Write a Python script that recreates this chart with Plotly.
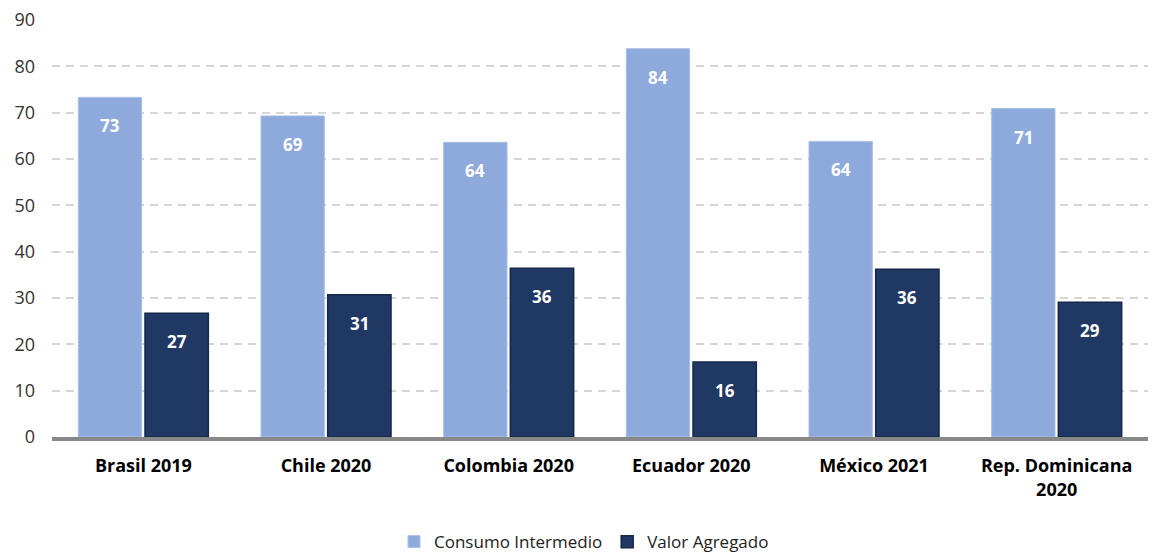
import plotly.graph_objects as go

categories = ["Brasil 2019", "Chile 2020", "Colombia 2020", "Ecuador 2020", "México 2021", "Rep. Dominicana<br>2020"]
consumo_intermedio = [73.3, 69.3, 63.6, 83.8, 63.8, 70.9]
valor_agregado = [26.7, 30.7, 36.4, 16.2, 36.2, 29.1]
y_ticks = [0, 10, 20, 30, 40, 50, 60, 70, 80, 90]

FONT = "Open Sans"
W, H = 1153, 556
ML, MR, MT, MB = 52, 5, 20, 119
BARGAP, GROUPGAP = 0.27, 0.05

fig = go.Figure()
series = [("Consumo Intermedio", consumo_intermedio, "#8EA9DB", "#A9BFE6", 1),
          ("Valor Agregado", valor_agregado, "#203864", "#15284A", 1.5)]
for name, vals, col, lc, lw in series:
    fig.add_trace(go.Bar(
        name=name, x=categories, y=vals,
        marker=dict(color=col, line=dict(color=lc, width=lw)),
        hoverinfo="x+y",
    ))

# value labels, placed under the top of each bar
cat_px = (W - ML - MR) / len(categories)
slot_px = cat_px * (1 - BARGAP) / len(series)
for si, (name, vals, col, lc, lw) in enumerate(series):
    shift = (si - (len(series) - 1) / 2) * slot_px
    for c, v in zip(categories, vals):
        fig.add_annotation(
            x=c, y=v, xref="x", yref="y", xshift=shift, yshift=-15,
            yanchor="top", showarrow=False, text=f"<b>{v:.0f}</b>",
            font=dict(color="white", size=17, family=FONT),
        )

fig.update_layout(
    width=W, height=H,
    margin=dict(l=ML, r=MR, t=MT, b=MB, autoexpand=False),
    paper_bgcolor="white", plot_bgcolor="white",
    barmode="group", bargap=BARGAP, bargroupgap=GROUPGAP,
    font=dict(family=FONT, size=17, color="#333333"),
    legend=dict(orientation="h", x=0.5 - 16 / (W - ML - MR), xanchor="center",
                y=-0.252, yanchor="middle",
                font=dict(size=17, color="#222222"), traceorder="normal"),
    showlegend=True,
)
fig.update_xaxes(
    showline=True, linecolor="#888888", linewidth=3.5, automargin=False,
    tickfont=dict(size=18, color="black", family=FONT, weight="bold"),
    ticks="", showgrid=False, ticklabelstandoff=10,
)
fig.update_yaxes(
    range=[0, 90], tickvals=y_ticks, showgrid=True, automargin=False,
    gridcolor="#D5D5D5", griddash="8px,6px", gridwidth=1.5,
    zeroline=False, showline=False, ticks="", ticklabelstandoff=16,
    tickfont=dict(size=18, color="#333333"),
)

fig.write_html(
    "out.html",
    config={"displayModeBar": False},
    post_script="document.body.style.margin='0';document.body.style.overflow='hidden';",
)
